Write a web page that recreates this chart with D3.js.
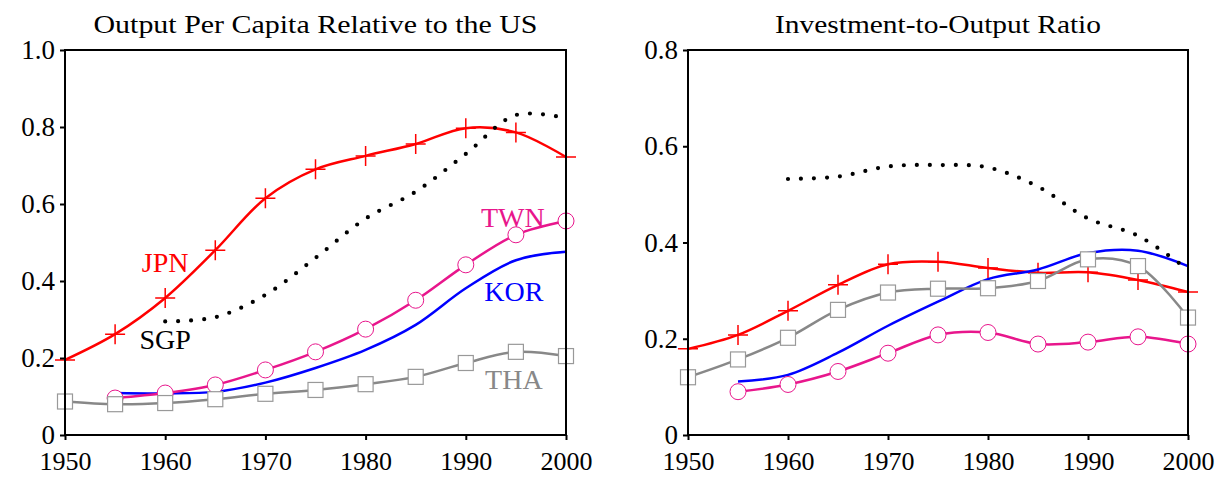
<!DOCTYPE html>
<html>
<head>
<meta charset="utf-8">
<script src="https://cdn.jsdelivr.net/npm/d3@7"></script>
<style>
  body { margin: 0; background: #fff; }
  svg text { font-family: "Liberation Serif", "Times New Roman", Times, serif; }
</style>
</head>
<body>
<svg id="chart" width="1215" height="479"></svg>
<script>
// years on the x axis
const years = [1950, 1955, 1960, 1965, 1970, 1975, 1980, 1985, 1990, 1995, 2000];
const xTicks = [1950, 1960, 1970, 1980, 1990, 2000];

// left panel: output per capita relative to US
const gdpJPN = [0.195, 0.262, 0.356, 0.48, 0.615, 0.69, 0.725, 0.756, 0.797, 0.786, 0.722];
const gdpTWN = [null, 0.096, 0.109, 0.13, 0.169, 0.216, 0.275, 0.35, 0.442, 0.52, 0.556];
const gdpKOR = [null, 0.109, 0.108, 0.112, 0.136, 0.174, 0.221, 0.286, 0.381, 0.454, 0.476];
const gdpTHA = [0.087, 0.08, 0.083, 0.093, 0.107, 0.117, 0.132, 0.151, 0.187, 0.216, 0.205];
const gdpSGP = [null, null, 0.295, 0.306, 0.364, 0.46, 0.562, 0.632, 0.73, 0.831, 0.823];
const leftTicks = [0, 0.2, 0.4, 0.6, 0.8, 1.0];
const leftTickLabels = ["0", "0.2", "0.4", "0.6", "0.8", "1.0"];

// right panel: investment-to-output ratio
const invJPN = [0.179, 0.208, 0.258, 0.312, 0.355, 0.36, 0.347, 0.337, 0.338, 0.322, 0.297];
const invTWN = [null, 0.09, 0.105, 0.132, 0.17, 0.208, 0.213, 0.189, 0.193, 0.204, 0.189];
const invKOR = [null, 0.111, 0.125, 0.171, 0.227, 0.277, 0.324, 0.344, 0.378, 0.383, 0.351];
const invTHA = [0.12, 0.157, 0.202, 0.26, 0.296, 0.304, 0.305, 0.32, 0.365, 0.351, 0.244];
const invSGP = [null, null, 0.532, 0.537, 0.558, 0.561, 0.556, 0.516, 0.45, 0.414, 0.343];
const rightTicks = [0, 0.2, 0.4, 0.6, 0.8];
const rightTickLabels = ["0", "0.2", "0.4", "0.6", "0.8"];

const colors = { JPN: "#ff0000", TWN: "#e8168c", KOR: "#0000ff", THA: "#888888", SGP: "#000000" };
const serif = "'Liberation Serif', 'Times New Roman', Times, serif";

const svg = d3.select("#chart");

function drawPanel(opt) {
  const x = d3.scaleLinear().domain([1950, 2000]).range([opt.left, opt.right]);
  const y = d3.scaleLinear().domain([0, opt.ymax]).range([435, 50]);
  const g = svg.append("g");

  g.append("text")
    .attr("x", (opt.left + opt.right) / 2).attr("y", 33)
    .attr("text-anchor", "middle")
    .attr("font-size", 25)
    .attr("textLength", opt.titleWidth).attr("lengthAdjust", "spacingAndGlyphs")
    .text(opt.title);

  const line = d3.line()
    .defined(d => d[1] != null)
    .x(d => x(d[0])).y(d => y(d[1]))
    .curve(d3.curveCatmullRom.alpha(0.5));
  const pts = vals => years.map((yr, i) => [yr, vals[i]]).filter(d => d[1] != null);

  // order: JPN, KOR, TWN, THA, SGP
  const s = opt.series;

  // JPN
  g.append("path").attr("d", line(pts(s.JPN))).attr("fill", "none")
    .attr("stroke", colors.JPN).attr("stroke-width", 2.5);
  g.selectAll(".cross").data(pts(s.JPN)).join("path")
    .attr("d", d => `M${x(d[0]) - 10},${y(d[1])}H${x(d[0]) + 10}M${x(d[0])},${y(d[1]) - 10}V${y(d[1]) + 10}`)
    .attr("stroke", colors.JPN).attr("stroke-width", 1.5);

  // KOR
  g.append("path").attr("d", line(pts(s.KOR))).attr("fill", "none")
    .attr("stroke", colors.KOR).attr("stroke-width", 2.5);

  // TWN
  g.append("path").attr("d", line(pts(s.TWN))).attr("fill", "none")
    .attr("stroke", colors.TWN).attr("stroke-width", 2.5);
  g.selectAll(".circ").data(pts(s.TWN)).join("circle")
    .attr("cx", d => x(d[0])).attr("cy", d => y(d[1])).attr("r", 8)
    .attr("fill", "#fff").attr("stroke", colors.TWN).attr("stroke-width", 1);

  // THA
  g.append("path").attr("d", line(pts(s.THA))).attr("fill", "none")
    .attr("stroke", colors.THA).attr("stroke-width", 2.5);
  g.selectAll(".sq").data(pts(s.THA)).join("rect")
    .attr("x", d => x(d[0]) - 7.5).attr("y", d => y(d[1]) - 7.5)
    .attr("width", 15).attr("height", 15)
    .attr("fill", "#fff").attr("stroke", "#999").attr("stroke-width", 1.2);

  // SGP dotted
  g.append("path").attr("d", line(pts(s.SGP))).attr("fill", "none")
    .attr("stroke", colors.SGP).attr("stroke-width", 4.2)
    .attr("stroke-linecap", "round").attr("stroke-dasharray", "0 13");

  // frame
  g.append("rect")
    .attr("x", opt.left).attr("y", 50)
    .attr("width", opt.right - opt.left).attr("height", 385)
    .attr("fill", "none").attr("stroke", "#000").attr("stroke-width", 2);

  // y axis
  g.append("g").attr("transform", `translate(${opt.left},0)`)
    .call(d3.axisLeft(y).tickValues(opt.yTicks).tickSize(5).tickPadding(5)
      .tickFormat((d, i) => opt.yLabels[i]))
    .call(a => a.select(".domain").remove())
    .call(a => a.selectAll("line").attr("stroke-width", 2))
    .call(a => a.selectAll("text").attr("font-size", 27).attr("fill", "#000")
      .attr("font-family", serif));

  // x axis
  g.append("g").attr("transform", "translate(0,435)")
    .call(d3.axisBottom(x).tickValues(xTicks).tickSize(5).tickPadding(12).tickFormat(d3.format("d")))
    .call(a => a.select(".domain").remove())
    .call(a => a.selectAll("line").attr("stroke-width", 2))
    .call(a => a.selectAll("text").attr("font-size", 26).attr("fill", "#000")
      .attr("font-family", serif));

  // series labels
  g.selectAll(".lab").data(opt.labels).join("text")
    .attr("x", d => x(d.year)).attr("y", d => y(d.value))
    .attr("text-anchor", "middle").attr("dominant-baseline", "central")
    .attr("font-size", 28).attr("fill", d => colors[d.name])
    .text(d => d.name);
}

drawPanel({
  left: 65, right: 566, ymax: 1.0,
  title: "Output Per Capita Relative to the US", titleWidth: 444,
  yTicks: leftTicks, yLabels: leftTickLabels,
  series: { JPN: gdpJPN, TWN: gdpTWN, KOR: gdpKOR, THA: gdpTHA, SGP: gdpSGP },
  labels: [
    { name: "JPN", year: 1960, value: 0.447 },
    { name: "SGP", year: 1960, value: 0.247 },
    { name: "TWN", year: 1994.7, value: 0.564 },
    { name: "KOR", year: 1994.8, value: 0.374 },
    { name: "THA", year: 1994.8, value: 0.145 }
  ]
});

drawPanel({
  left: 688, right: 1188, ymax: 0.8,
  title: "Investment-to-Output Ratio", titleWidth: 326,
  yTicks: rightTicks, yLabels: rightTickLabels,
  series: { JPN: invJPN, TWN: invTWN, KOR: invKOR, THA: invTHA, SGP: invSGP },
  labels: []
});
</script>
</body>
</html>
